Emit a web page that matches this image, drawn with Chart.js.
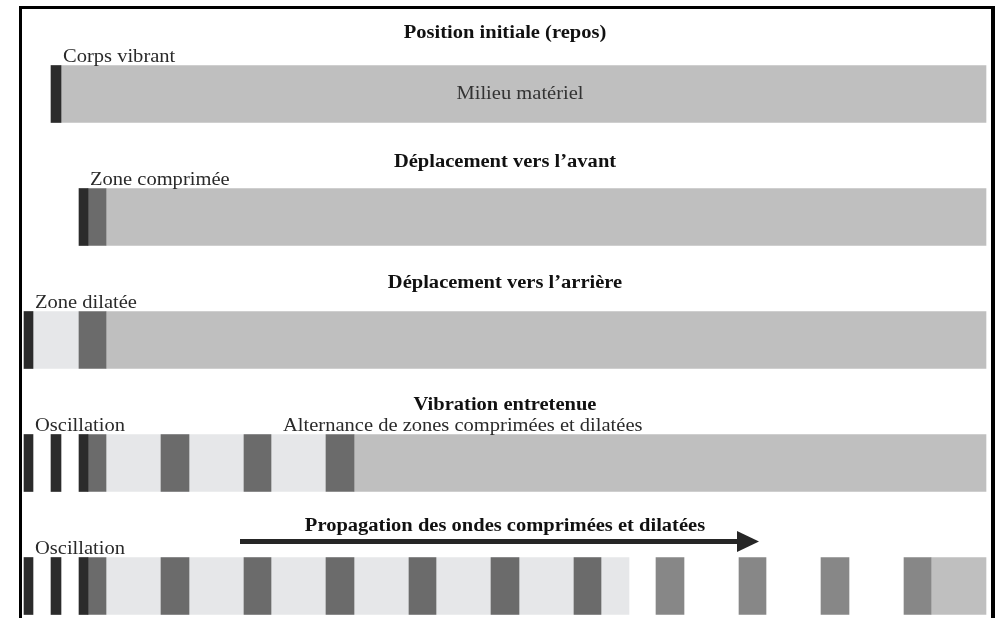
<!DOCTYPE html>
<html lang="fr">
<head>
<meta charset="utf-8">
<title>Propagation d'une onde sonore</title>
<script src="https://cdn.jsdelivr.net/npm/chart.js@4.4.4/dist/chart.umd.min.js"></script>
<style>
  html, body { margin: 0; padding: 0; background: #fff; }
  #wrap { width: 995px; height: 618px; position: relative; }
</style>
</head>
<body>
<div id="wrap"><canvas id="chart-onde" width="995" height="618"></canvas></div>
<script>
// ─── Data ────────────────────────────────────────────────────────────────────

// One row per stage of the vibration
const ROWS = [
    'Position initiale (repos)',
    'Déplacement vers l’avant',
    'Déplacement vers l’arrière',
    'Vibration entretenue',
    'Propagation des ondes comprimées et dilatées'
];

// Segments along the medium: [row, start, end]
const CORPS_VIBRANT = [
    [0, 51, 61], [1, 79, 88], [2, 24, 33],
    [3, 24, 33], [3, 51, 61], [3, 79, 88],
    [4, 24, 33], [4, 51, 61], [4, 79, 88]
];
const MILIEU = [[0, 61, 986], [1, 106, 986], [2, 106, 986], [3, 354, 986], [4, 931, 986]];
const ZONE_DILATEE = [[2, 33, 79], [3, 106, 326], [4, 106, 629]];
const ZONE_COMPRIMEE = [
    [1, 88, 106], [2, 79, 106],
    [3, 88, 106], [3, 161, 189], [3, 244, 271], [3, 326, 354],
    [4, 88, 106], [4, 161, 189], [4, 244, 271], [4, 326, 354],
    [4, 409, 436], [4, 491, 519], [4, 574, 601]
];
const ONDE = [[4, 656, 684], [4, 739, 766], [4, 821, 849], [4, 904, 931]];

// Labels above the bars: [row, x, text]
const ANNOTATIONS = [
    [0, 63, 'Corps vibrant'],
    [1, 90, 'Zone comprimée'],
    [2, 35, 'Zone dilatée'],
    [3, 35, 'Oscillation'],
    [3, 283, 'Alternance de zones comprimées et dilatées'],
    [4, 35, 'Oscillation']
];
const MILIEU_LABEL = [0, 520, 'Milieu matériel'];
const ARROW = [4, 240, 759];

// ─── Helpers ─────────────────────────────────────────────────────────────────

const BAR_H = 57;
const TITLE_GAP = [28, 22, 24, 25, 27];
const STRETCH = 1.14;   // the scanned figure is a bit wider than tall
const SERIF = "'Liberation Serif', 'DejaVu Serif', serif";

const toPoints = segs => segs.map(([r, a, b]) => ({ y: ROWS[r], x: [a, b] }));

const zone = (label, segs, color) => ({
    label,
    data: toPoints(segs),
    backgroundColor: color,
    borderWidth: 0,
    borderSkipped: false,
    grouped: false,
    barThickness: BAR_H,
    clip: false
});

function stretchedText(ctx, text, x, y, sx) {
    ctx.save();
    ctx.translate(x, y);
    ctx.scale(sx, 1);
    ctx.fillText(text, 0, 0);
    ctx.restore();
}

// ─── Text, arrow and frame plugin ────────────────────────────────────────────

const diagramPlugin = {
    id: 'diagramText',
    beforeDraw(chart) {
        const { ctx } = chart;
        ctx.save();
        ctx.fillStyle = '#000';
        ctx.fillRect(19, 6, 976, 3);   // top
        ctx.fillRect(19, 6, 3, 612);   // left
        ctx.fillRect(991, 6, 4, 612);  // right
        ctx.restore();
    },
    afterDatasetsDraw(chart) {
        const { ctx, scales: { x, y } } = chart;
        const top = r => y.getPixelForValue(r) - BAR_H / 2;
        ctx.save();

        // stage titles
        ctx.font = `bold 18px ${SERIF}`;
        ctx.fillStyle = '#111';
        ctx.textAlign = 'center';
        ctx.textBaseline = 'alphabetic';
        ROWS.forEach((t, r) => stretchedText(ctx, t, x.getPixelForValue(505), top(r) - TITLE_GAP[r], STRETCH));

        // annotations
        ctx.font = `19px ${SERIF}`;
        ctx.fillStyle = '#2a2a2a';
        ctx.textAlign = 'left';
        ANNOTATIONS.forEach(([r, px, t]) => stretchedText(ctx, t, x.getPixelForValue(px), top(r) - 4, 1.08));

        // label inside the medium
        ctx.textAlign = 'center';
        ctx.textBaseline = 'middle';
        ctx.fillStyle = '#333';
        stretchedText(ctx, MILIEU_LABEL[2], x.getPixelForValue(MILIEU_LABEL[1]), y.getPixelForValue(MILIEU_LABEL[0]), 1.08);

        // propagation arrow
        const [ar, ax0, ax1] = ARROW;
        const ay = top(ar) - 16;
        const x0 = x.getPixelForValue(ax0), x1 = x.getPixelForValue(ax1);
        ctx.fillStyle = '#262626';
        ctx.fillRect(x0, ay - 2.5, x1 - x0 - 20, 5);
        ctx.beginPath();
        ctx.moveTo(x1, ay);
        ctx.lineTo(x1 - 22, ay - 10.5);
        ctx.lineTo(x1 - 22, ay + 10.5);
        ctx.closePath();
        ctx.fill();

        ctx.restore();
    }
};

// ─── Chart ───────────────────────────────────────────────────────────────────

// Chart.js paints dataset 0 last, so the darkest marks go first
new Chart(document.getElementById('chart-onde'), {
    type: 'bar',
    data: {
        labels: ROWS,
        datasets: [
            zone('Corps vibrant', CORPS_VIBRANT, '#2b2b2b'),
            zone('Onde propagée', ONDE, '#878787'),
            zone('Zone comprimée', ZONE_COMPRIMEE, '#6b6b6b'),
            zone('Zone dilatée', ZONE_DILATEE, '#e6e7e9'),
            zone('Milieu matériel', MILIEU, '#bfbfbf')
        ]
    },
    options: {
        indexAxis: 'y',
        responsive: false,
        animation: false,
        layout: { padding: { top: 94, bottom: 32, left: 0, right: 0 } },
        plugins: {
            legend: { display: false },
            tooltip: { enabled: false }
        },
        scales: {
            x: { type: 'linear', min: 0, max: 995, display: false },
            y: { type: 'category', offset: false, display: false }
        }
    },
    plugins: [diagramPlugin]
});
</script>
</body>
</html>
